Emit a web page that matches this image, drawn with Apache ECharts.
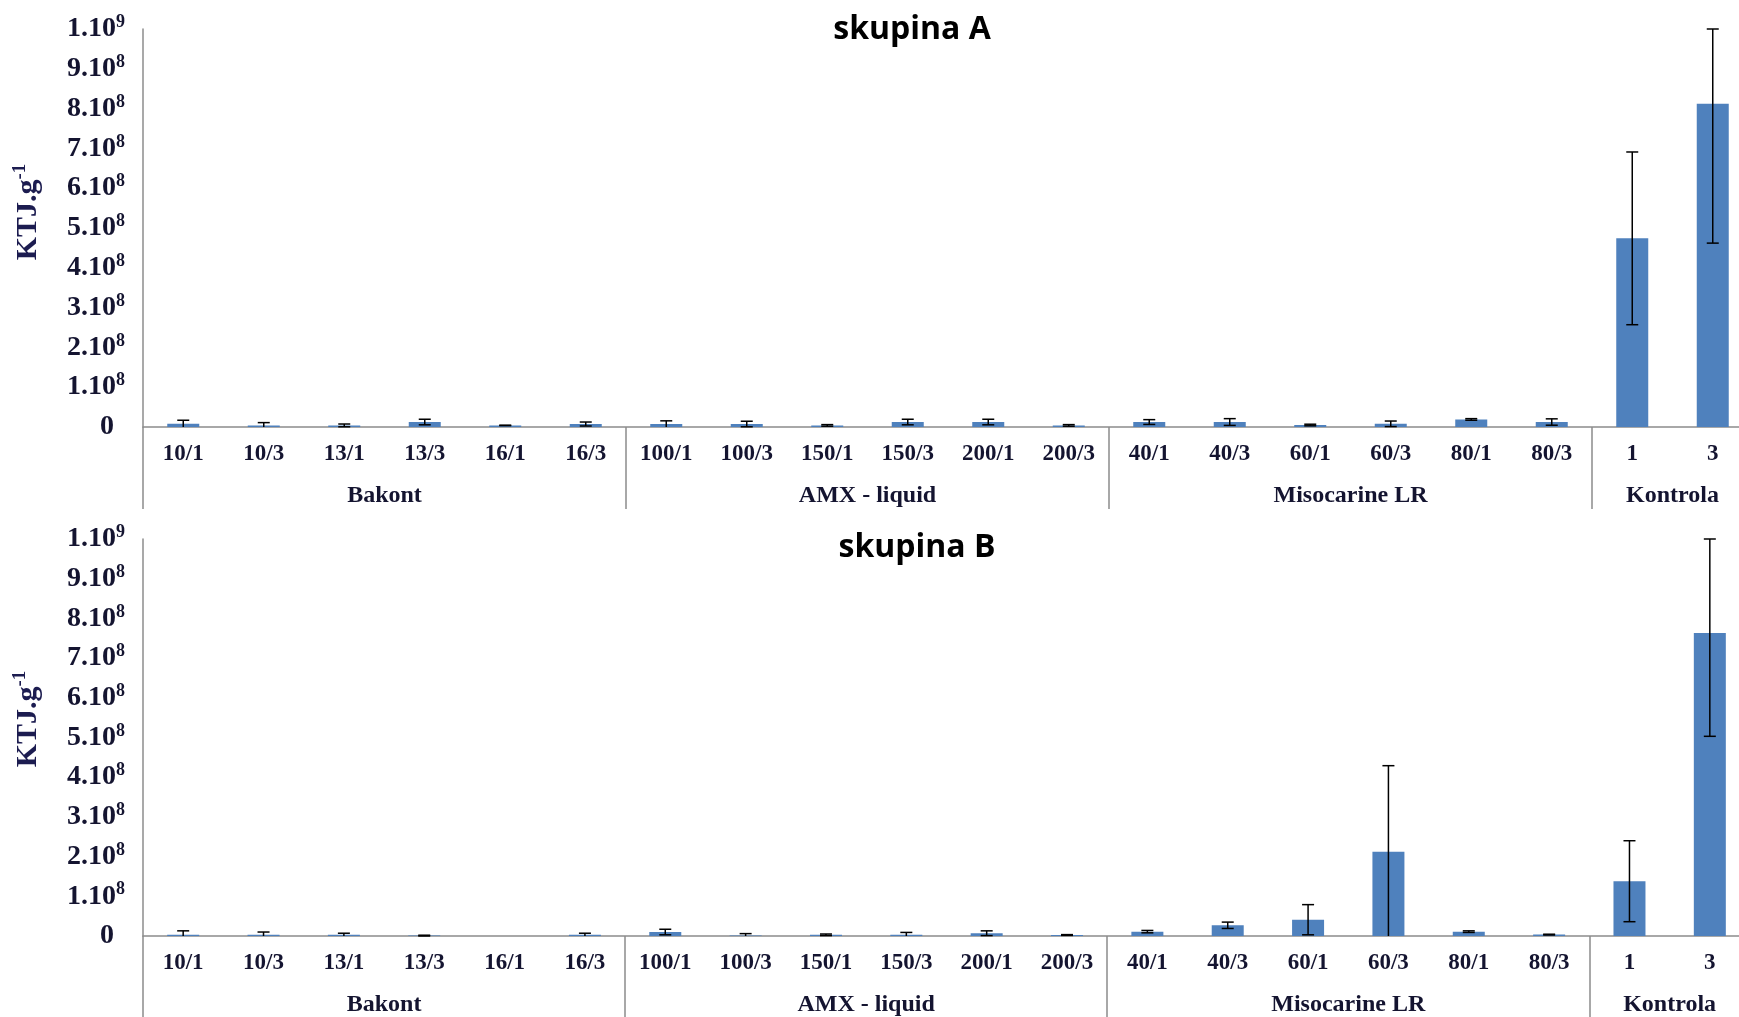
<!DOCTYPE html>
<html><head><meta charset="utf-8">
<script src="https://cdn.jsdelivr.net/npm/echarts@6/dist/echarts.min.js"></script>
<style>html,body{margin:0;padding:0;background:#fff}#c{width:1739px;height:1017px}</style>
</head><body><div id="c"></div>
<script>
// ---------- data ----------
const categories = ['10/1','10/3','13/1','13/3','16/1','16/3','100/1','100/3','150/1','150/3','200/1','200/3','40/1','40/3','60/1','60/3','80/1','80/3','1','3'];
const groupNames = ['Bakont','AMX - liquid','Misocarine LR','Kontrola'];
const groupSizes = [6, 6, 6, 2];
const yTickLabels = ['0','1.10^8','2.10^8','3.10^8','4.10^8','5.10^8','6.10^8','7.10^8','8.10^8','9.10^8','1.10^9'];
const titles = ['skupina A', 'skupina B'];
const yName = 'KTJ.g^-1';

const meanA = [8e6, 4e6, 4e6, 1.25e7, 4e6, 7.5e6,   7.5e6, 7.5e6, 4e6, 1.25e7, 1.25e7, 4e6,   1.25e7, 1.25e7, 5e6, 8e6, 1.9e7, 1.25e7,   4.74e8, 8.12e8];
const errA  = [9e6, 7e6, 3.5e6, 7e6, 0.5e6, 5e6,    8e6, 7e6, 2e6, 7e6, 7e6, 2e6,            6e6, 8.5e6, 2e6, 7e6, 2e6, 8e6,           2.17e8, 3.5e8];
const meanB = [3e6, 3e6, 3e6, 1e6, 0, 3e6,          1e7, 1e6, 3e6, 3e6, 7e6, 2.5e6,          1.1e7, 2.7e7, 4.1e7, 2.12e8, 1.1e7, 3.5e6, 1.38e8, 7.63e8];
const errB  = [1e7, 7e6, 4e6, 1e6, 0, 4e6,          7e6, 5e6, 2e6, 6e6, 6e6, 1e6,            3e6, 8e6, 3.8e7, 2.17e8, 2e6, 1e6,        1.02e8, 2.6e8];

// ---------- helpers ----------
const Y_MIN = 0, Y_MAX = 1e9, Y_STEP = 1e8;
const boundaries = [0]; groupSizes.forEach(s => boundaries.push(boundaries[boundaries.length-1] + s));
const centers = groupSizes.map((s, i) => boundaries[i] + s / 2);
const TXT = '#141430';
const AX = '#8c8c8c';
const serif = 'Liberation Serif';

function supRich(str, key) {
  const p = str.split('^');
  if (p.length === 1) return '{z|' + p[0] + '}';
  return '{' + key + '|' + p[0] + '}{s|' + p[1] + '}';
}
const tickRich = {
  a: {fontFamily: serif, fontWeight: 'bold', fontSize: 28, color: TXT, lineHeight: 31},
  z: {fontFamily: serif, fontWeight: 'bold', fontSize: 28, color: TXT, lineHeight: 31, padding: [0, 11, 0, 0]},
  s: {fontFamily: serif, fontWeight: 'bold', fontSize: 18, color: TXT, lineHeight: 17, verticalAlign: 'top'}
};

function errRender(params, api) {
  const i = api.value(0), m = api.value(1), e = api.value(2);
  if (!(e > 0)) return null;
  const lo = Math.max(Y_MIN, m - e), hi = Math.min(Y_MAX, m + e);
  const pLo = api.coord([i, lo]), pHi = api.coord([i, hi]);
  const x = pLo[0], hw = 6;
  const st = {stroke: '#000', lineWidth: 1.5};
  const ch = [
    {type: 'line', shape: {x1: x, y1: pLo[1], x2: x, y2: pHi[1]}, style: st},
    {type: 'line', shape: {x1: x - hw, y1: pHi[1], x2: x + hw, y2: pHi[1]}, style: st}
  ];
  if (m - e >= Y_MIN) ch.push({type: 'line', shape: {x1: x - hw, y1: pLo[1], x2: x + hw, y2: pLo[1]}, style: st});
  return {type: 'group', children: ch};
}

const grids = [
  {left: 143, top: 29, width: 1610, height: 398, outerBoundsMode: 'none', containLabel: false},
  {left: 143, top: 539, width: 1607, height: 397, outerBoundsMode: 'none', containLabel: false}
];
const titlePos = [[912, 30], [917, 548]];
const namePos = [[28, 212], [28, 719]];
const means = [meanA, meanB], errs = [errA, errB];

const xAxis = [], yAxis = [], series = [], graphic = [];
grids.forEach((g, k) => {
  xAxis.push({
    gridIndex: k, type: 'category', data: categories,
    axisLine: {lineStyle: {color: AX, width: 1.5}},
    axisTick: {show: false},
    axisLabel: {interval: 0, margin: 16, fontFamily: serif, fontWeight: 'bold', fontSize: 23, color: TXT}
  });
  xAxis.push({
    gridIndex: k, type: 'value', min: 0, max: categories.length, position: 'bottom',
    axisLine: {show: false}, splitLine: {show: false},
    axisTick: {show: true, customValues: boundaries, length: 82, lineStyle: {color: AX, width: 1.5}},
    axisLabel: {customValues: centers, margin: 57, fontFamily: serif, fontWeight: 'bold', fontSize: 24, color: TXT,
      formatter: v => groupNames[centers.indexOf(v)]}
  });
  yAxis.push({
    gridIndex: k, type: 'value', min: Y_MIN, max: Y_MAX, interval: Y_STEP,
    axisLine: {show: true, lineStyle: {color: AX, width: 1.5}},
    axisTick: {show: false}, splitLine: {show: false},
    axisLabel: {margin: 18, formatter: (v, idx) => supRich(yTickLabels[idx], 'a'), rich: tickRich}
  });
  series.push({
    type: 'bar', xAxisIndex: 2 * k, yAxisIndex: k, data: means[k], barWidth: 32,
    itemStyle: {color: '#4F81BD'}, silent: true
  });
  series.push({
    type: 'custom', xAxisIndex: 2 * k, yAxisIndex: k, renderItem: errRender,
    encode: {x: 0, y: 1},
    data: means[k].map((m, i) => [i, m, errs[k][i]]), silent: true, z: 5
  });
  graphic.push({
    type: 'text', x: titlePos[k][0], y: titlePos[k][1],
    style: {text: titles[k], fontFamily: 'Open Sans', fontWeight: 'bold', fontSize: 32, fill: '#000', align: 'center', verticalAlign: 'middle'}
  });
  graphic.push({
    type: 'text', x: namePos[k][0], y: namePos[k][1], rotation: Math.PI / 2,
    style: {text: supRich(yName, 'n'), align: 'center', verticalAlign: 'middle',
      rich: {
        n: {fontFamily: serif, fontWeight: 'bold', fontSize: 30, fill: '#1c1c50', lineHeight: 34},
        s: {fontFamily: serif, fontWeight: 'bold', fontSize: 19, fill: '#1c1c50', lineHeight: 19, verticalAlign: 'top'}
      }}
  });
});

const chart = echarts.init(document.getElementById('c'), null, {renderer: 'canvas'});
chart.setOption({animation: false, backgroundColor: '#fff', grid: grids, xAxis, yAxis, series, graphic});
</script></body></html>
